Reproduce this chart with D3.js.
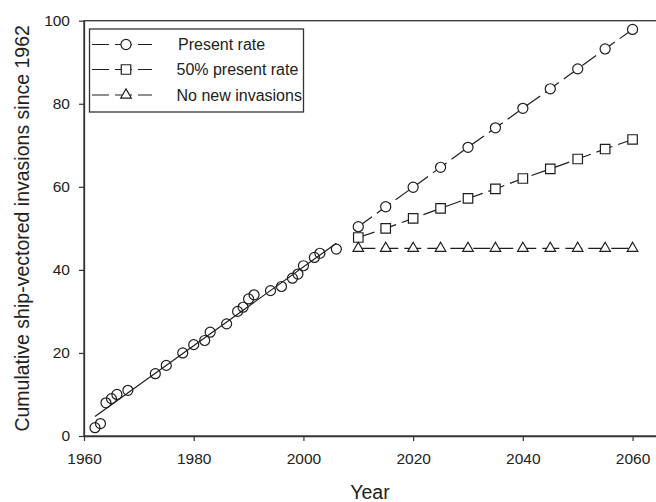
<!DOCTYPE html>
<html>
<head>
<meta charset="utf-8">
<script src="https://cdn.jsdelivr.net/npm/d3@7"></script>
<style>
  body { margin: 0; background: #fff; }
  svg text { font-family: "Liberation Sans", Arial, sans-serif; fill: #222; }
</style>
</head>
<body>
<div id="chart"></div>
<script>
// observed invasions (scatter) and fitted trend
let histYears = [1962, 1963, 1964, 1965, 1966, 1968, 1973, 1975, 1978, 1980, 1982, 1983, 1986,
    1988, 1989, 1990, 1991, 1994, 1996, 1998, 1999, 2000, 2002, 2003, 2006];
let histValues = [2, 3, 8, 9, 10, 11, 15, 17, 20, 22, 23, 25, 27,
    30, 31, 33, 34, 35, 36, 38, 39, 41, 43, 44, 45];
let fitYears = [1962, 2006];
let fitValues = [4.7, 46.4];

// projections
let projYears = [2010, 2015, 2020, 2025, 2030, 2035, 2040, 2045, 2050, 2055, 2060];
let presentRate = [50.4, 55.2, 59.9, 64.7, 69.5, 74.2, 78.9, 83.6, 88.4, 93.2, 97.9];
let halfRate = [47.8, 50.0, 52.4, 54.8, 57.2, 59.5, 62.0, 64.3, 66.7, 69.1, 71.4];
let noNew = [45.2, 45.2, 45.2, 45.2, 45.2, 45.2, 45.2, 45.2, 45.2, 45.2, 45.2];

let seriesNames = ["Present rate", "50% present rate", "No new invasions"];
let xTicks = [1960, 1980, 2000, 2020, 2040, 2060];
let yTicks = [0, 20, 40, 60, 80, 100];

let margin = {top: 20.7, left: 84},
    width = 576,
    height = 415.3;

let svg = d3.select("#chart").append("svg")
    .attr("width", 656)
    .attr("height", 502);

let g = svg.append("g")
    .attr("transform", "translate(" + margin.left + "," + margin.top + ")");

let x = d3.scaleLinear().domain([1960, 2065]).range([0, width]);
let y = d3.scaleLinear().domain([0, 100]).range([height, 0]);

let ink = "#1e1e1e";

// frame (top / right)
g.append("rect")
    .attr("x", 0).attr("y", 0)
    .attr("width", width).attr("height", height)
    .attr("fill", "none")
    .attr("stroke", "#333")
    .attr("stroke-width", 1.3);

// axes
let xAxis = g.append("g")
    .attr("transform", "translate(0," + height + ")")
    .call(d3.axisBottom(x).tickValues(xTicks).tickFormat(d3.format("d"))
        .tickSize(5).tickSizeOuter(0).tickPadding(12));

let yAxis = g.append("g")
    .call(d3.axisLeft(y).tickValues(yTicks).tickSize(5).tickSizeOuter(0).tickPadding(9));

[xAxis, yAxis].forEach(function (a) {
    a.select(".domain").attr("stroke", "#333").attr("stroke-width", 1.3);
    a.selectAll(".tick line").attr("stroke", "#333").attr("stroke-width", 1.2);
    a.selectAll(".tick text")
        .style("font-family", "'Liberation Sans', Arial, sans-serif")
        .style("font-size", "15.5px")
        .attr("fill", "#222");
});

// axis titles
svg.append("text")
    .attr("x", margin.left + width / 2 - 2)
    .attr("y", 499)
    .attr("text-anchor", "middle")
    .style("font-size", "19.5px")
    .text("Year");

svg.append("text")
    .attr("transform", "translate(29," + (margin.top + height / 2) + ") rotate(-90)")
    .attr("text-anchor", "middle")
    .style("font-size", "19.5px")
    .text("Cumulative ship-vectored invasions since 1962");

// fitted line through observations
let fitData = fitYears.map((d, i) => ({year: d, value: fitValues[i]}));
g.append("path")
    .datum(fitData)
    .attr("fill", "none")
    .attr("stroke", ink)
    .attr("stroke-width", 1.2)
    .attr("d", d3.line().x(d => x(d.year)).y(d => y(d.value)));

// observed points
let histData = histYears.map((d, i) => ({year: d, value: histValues[i]}));
g.selectAll(".hist")
    .data(histData)
    .enter().append("circle")
    .attr("class", "hist")
    .attr("cx", d => x(d.year))
    .attr("cy", d => y(d.value))
    .attr("r", 5)
    .attr("fill", "none")
    .attr("stroke", ink)
    .attr("stroke-width", 1.2);

// projections
let symbols = [d3.symbolCircle, d3.symbolSquare, d3.symbolTriangle];
let symbolSizes = [80, 90, 48];
let projValues = [presentRate, halfRate, noNew];

let line = d3.line().x(d => x(d.year)).y(d => y(d.value));

projValues.forEach(function (vals, k) {
    let data = projYears.map((d, i) => ({year: d, value: vals[i]}));
    g.append("path")
        .datum(data)
        .attr("fill", "none")
        .attr("stroke", ink)
        .attr("stroke-width", 1.2)
        .attr("stroke-dasharray", "17,6")
        .attr("d", line);
    g.selectAll(".proj" + k)
        .data(data)
        .enter().append("path")
        .attr("class", "proj" + k)
        .attr("transform", d => "translate(" + x(d.year) + "," + y(d.value) + ")")
        .attr("d", d3.symbol().type(symbols[k]).size(symbolSizes[k]))
        .attr("fill", "#fff")
        .attr("stroke", ink)
        .attr("stroke-width", 1.2);
});

// legend
let legend = svg.append("g");
legend.append("rect")
    .attr("x", 89.5).attr("y", 29)
    .attr("width", 214).attr("height", 83)
    .attr("fill", "#fff")
    .attr("stroke", "#333")
    .attr("stroke-width", 1.3);

let rowY = [44.5, 69.5, 95];
seriesNames.forEach(function (name, k) {
    legend.append("line")
        .attr("x1", 92).attr("x2", 152)
        .attr("y1", rowY[k]).attr("y2", rowY[k])
        .attr("stroke", ink)
        .attr("stroke-width", 1.2)
        .attr("stroke-dasharray", "17,6");
    legend.append("path")
        .attr("transform", "translate(126," + rowY[k] + ")")
        .attr("d", d3.symbol().type(symbols[k]).size(symbolSizes[k]))
        .attr("fill", "#fff")
        .attr("stroke", ink)
        .attr("stroke-width", 1.2);
    legend.append("text")
        .attr("x", k === 0 ? 178 : 176.5)
        .attr("y", rowY[k] + 5.5)
        .style("font-size", "16px")
        .text(name);
});
</script>
</body>
</html>
